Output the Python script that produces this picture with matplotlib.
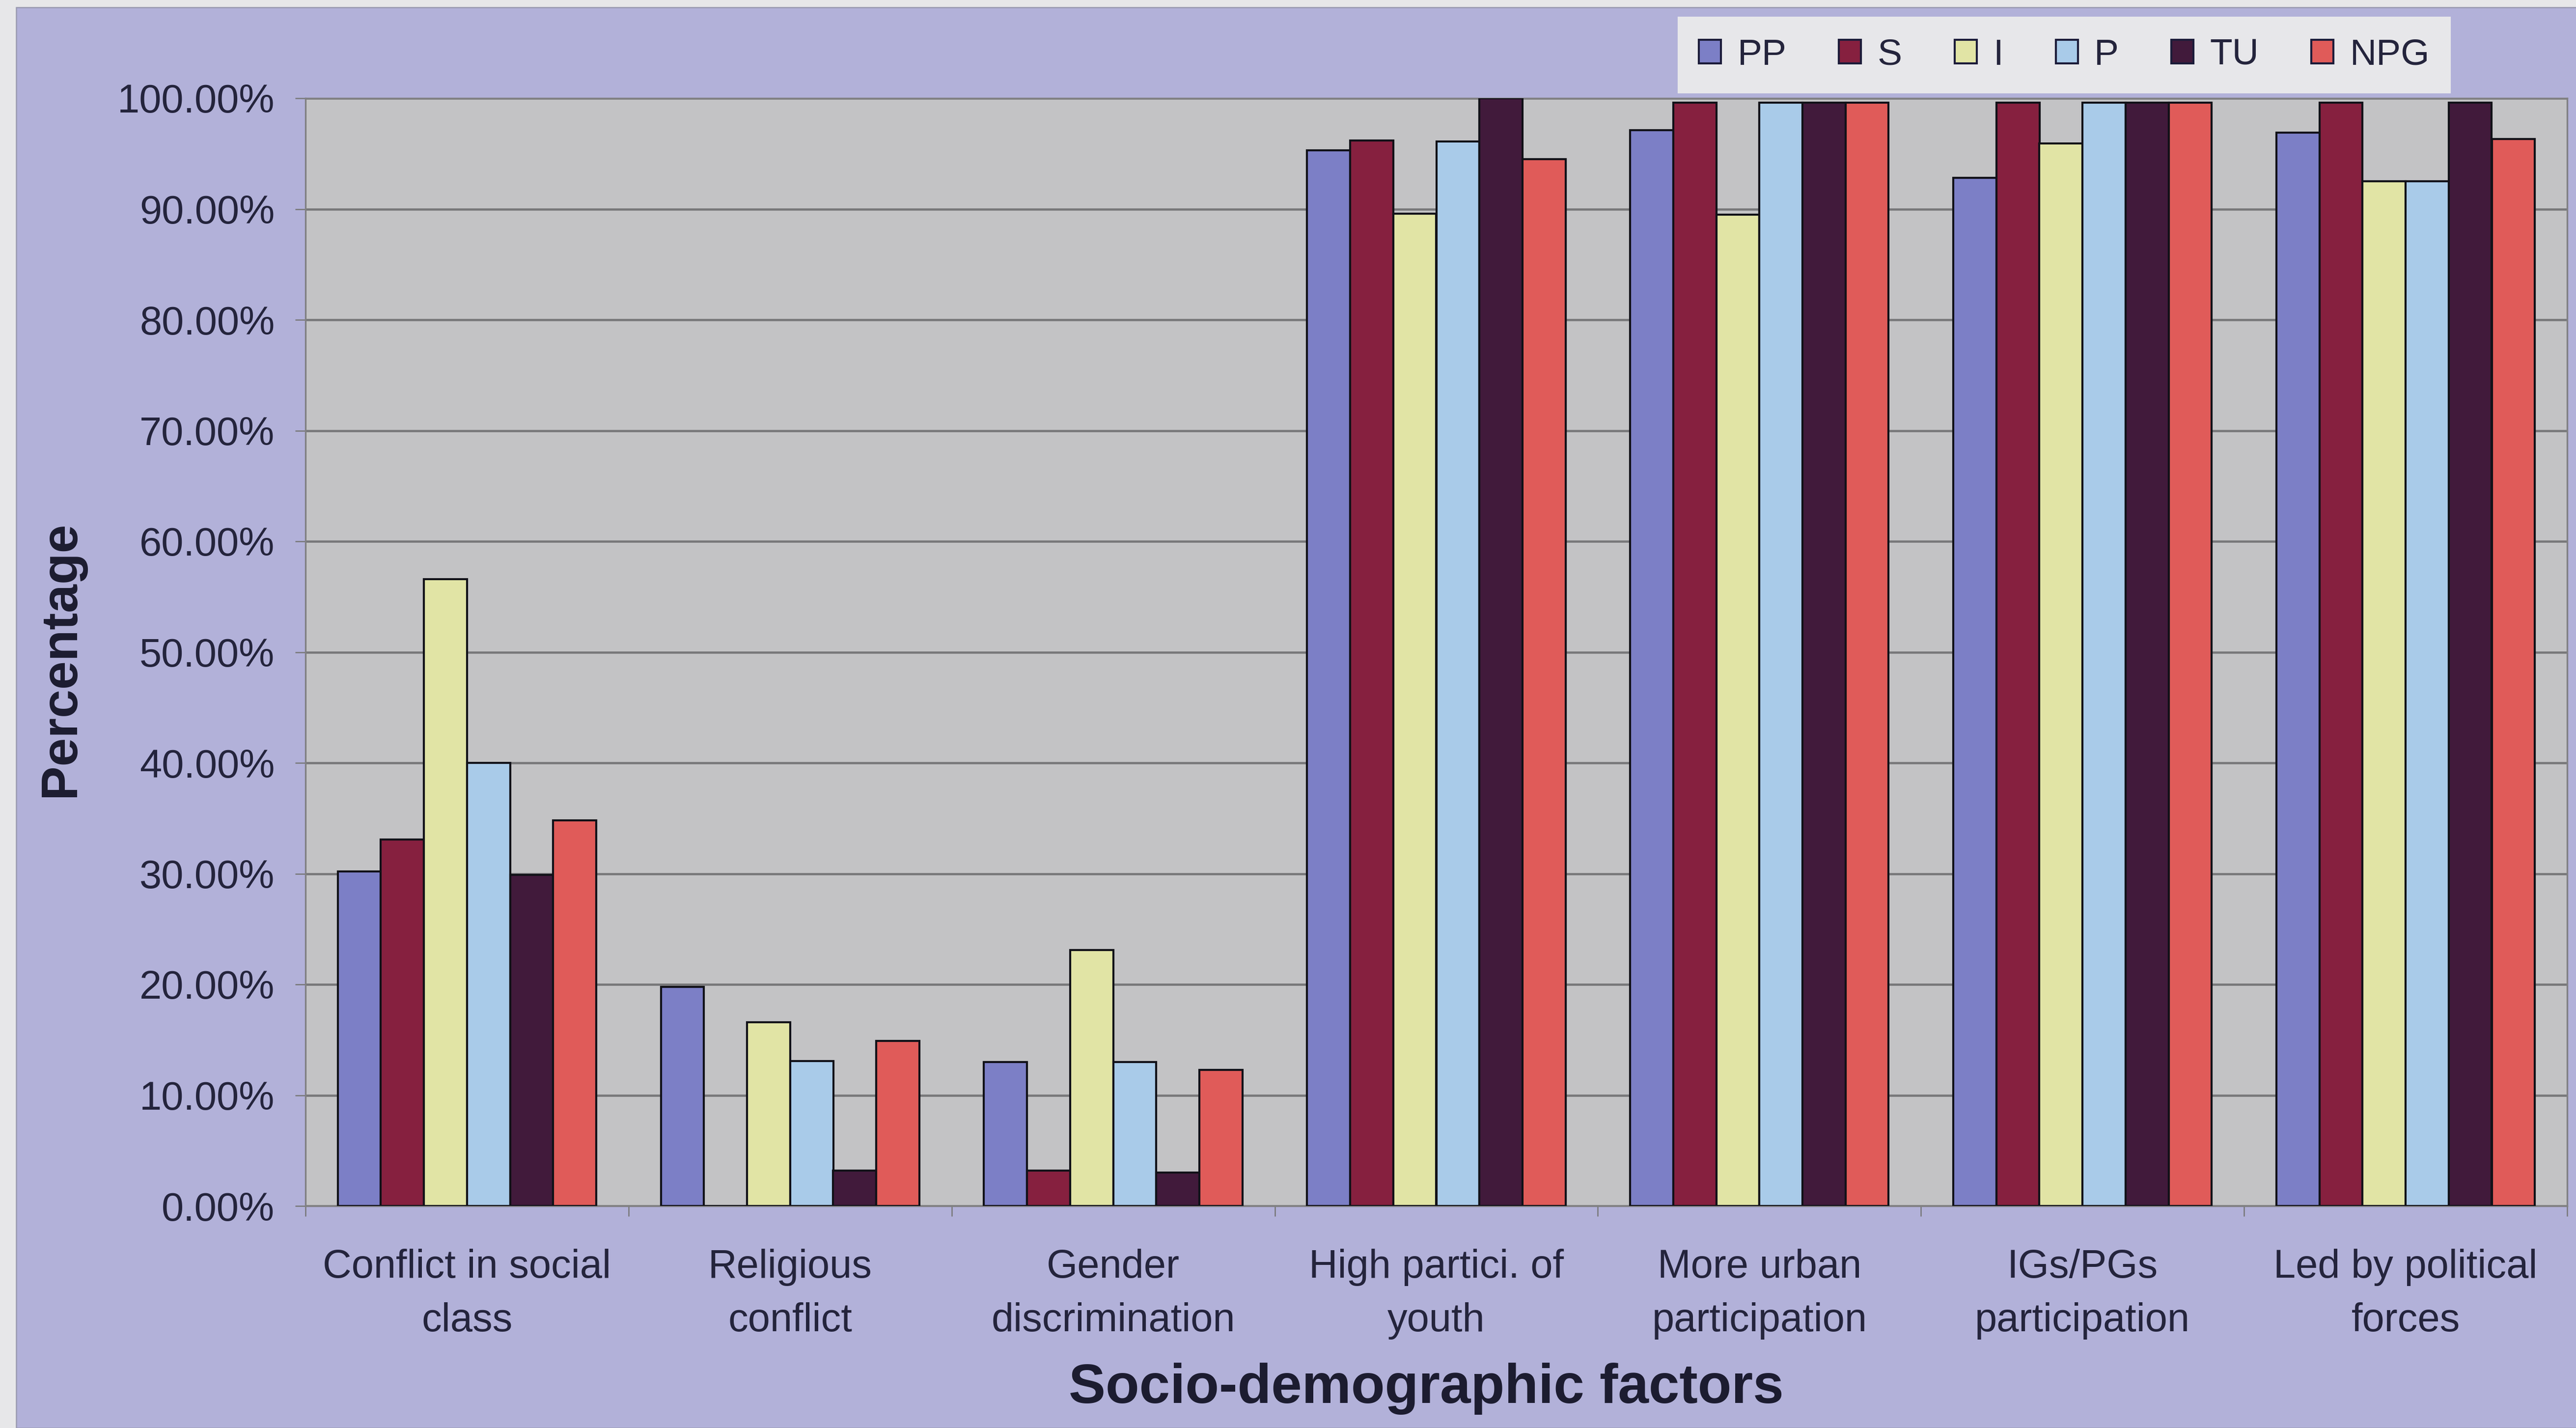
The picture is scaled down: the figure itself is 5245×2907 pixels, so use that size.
import numpy as np
import matplotlib
matplotlib.use("Agg")
import matplotlib.pyplot as plt
from matplotlib.patches import Patch, Rectangle

plt.rcParams['font.family'] = ['Liberation Sans', 'DejaVu Sans']

factors = ['Conflict in social\nclass', 'Religious\nconflict', 'Gender\ndiscrimination',
           'High partici. of\nyouth', 'More urban\nparticipation', 'IGs/PGs\nparticipation',
           'Led by political\nforces']
groups = ['PP', 'S', 'I', 'P', 'TU', 'NPG']

pp = [30.2, 19.8, 13.0, 95.3, 97.1, 92.8, 96.9]
s = [33.1, 0.0, 3.2, 96.2, 99.6, 99.6, 99.6]
i_vals = [56.6, 16.6, 23.1, 89.6, 89.5, 95.9, 92.5]
p = [40.0, 13.1, 13.0, 96.1, 99.6, 99.6, 92.5]
tu = [29.9, 3.2, 3.0, 100.0, 99.6, 99.6, 99.6]
npg = [34.8, 14.9, 12.3, 94.5, 99.6, 99.6, 96.3]

series = [pp, s, i_vals, p, tu, npg]
colors = ['#7c7fc6', '#86203f', '#e1e4a5', '#a9cbe9', '#411a3b', '#e05b59']

txt = '#24243c'
W, H = 5245, 2907
fig = plt.figure(figsize=(W / 300, H / 300), dpi=300)
fig.patch.set_facecolor('#e7e7e9')
# lavender chart area
fig.add_artist(Rectangle((33 / W, 0), 1, 1 - 15 / H, transform=fig.transFigure,
                         facecolor='#b2b1d9', edgecolor='#9a9ab0', lw=0.6, zorder=0))

ax = fig.add_axes([622 / W, 1 - 2455 / H, (5227 - 622) / W, (2455 - 200) / H])
ax.set_facecolor('#c3c3c5')

x = np.arange(len(factors))
bw = 0.8 / len(groups)
for k, (vals, c) in enumerate(zip(series, colors)):
    ax.bar(x - 0.4 + bw * (k + 0.5), vals, width=bw, color=c, edgecolor='#111118',
           linewidth=1.0, zorder=3, label=groups[k])

ax.set_xlim(-0.5, len(factors) - 0.5)
ax.set_ylim(0, 100)
ax.set_yticks(np.arange(0, 101, 10))
ax.set_yticklabels(['%.2f%%' % v for v in np.arange(0, 101, 10)])
ax.yaxis.grid(True, color='#777779', lw=1.1, zorder=1)
ax.set_axisbelow(True)

ax.set_xticks(x)
ax.set_xticklabels(factors, linespacing=1.55)
ax.set_xticks(np.arange(-0.5, len(factors)), minor=True)
ax.tick_params(axis='x', which='major', length=0, pad=21, labelsize=19.5, labelcolor=txt)
ax.tick_params(axis='x', which='minor', length=5, width=0.6, color='#777777', direction='out')
ax.tick_params(axis='y', length=5, width=0.6, color='#777777', pad=10, labelsize=19.5,
               labelcolor=txt)

for sp in ax.spines.values():
    sp.set_color('#808082')
    sp.set_linewidth(0.8)

fig.text(2904 / W, 1 - 2827 / H, 'Socio-demographic factors', ha='center', va='center',
         fontsize=27, fontweight='bold', color='#1c1c30')
fig.text(124 / W, 1 - 1341 / H, 'Percentage', ha='center', va='center', rotation=90,
         fontsize=25, fontweight='bold', color='#1c1c30')

handles = [Patch(facecolor=c, edgecolor='#1c1c3a', lw=1.0) for c in colors]
leg = fig.legend(handles, groups, loc='center', bbox_to_anchor=(4203 / W, 1 - 112 / H),
                 ncol=6, fontsize=18, frameon=True, fancybox=False, handlelength=0.6,
                 handleheight=0.6, handletextpad=0.45, columnspacing=1.42,
                 borderpad=0.55, labelcolor=txt)
leg.get_frame().set_facecolor('#e7e7ea')
leg.get_frame().set_edgecolor('#e7e7ea')
leg.get_frame().set_alpha(1)

fig.savefig('out.png', dpi=300, facecolor=fig.get_facecolor())
